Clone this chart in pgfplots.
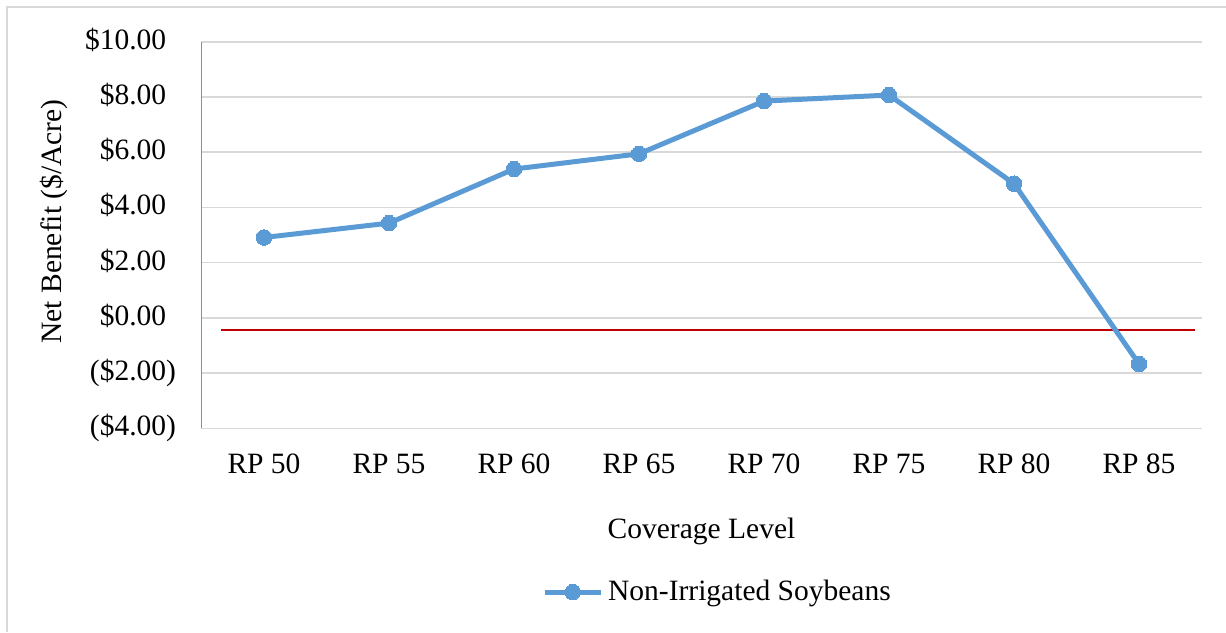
\documentclass[border=0pt]{standalone}
\usepackage{pgfplots}
\pgfplotsset{compat=1.18}
\usepackage{fontspec}
\setmainfont{Liberation Serif}
\definecolor{series}{HTML}{5B9BD5}
\definecolor{refred}{HTML}{C00000}
\definecolor{gridgray}{HTML}{D9D9D9}
\newcommand{\chartfont}{\fontsize{11.8}{14}\selectfont}

\begin{document}
\begin{tikzpicture}
\useasboundingbox (0,0) rectangle (490.4pt,252.8pt);
\draw[gridgray, line width=0.8pt] (2.8pt,0pt) -- (2.8pt,250pt) -- (490.4pt,250pt);
\begin{axis}[
    at={(80.6pt,81.5pt)}, anchor=south west,
    scale only axis,
    width=400pt, height=154.6pt,
    xmin=-0.5, xmax=7.5,
    ymin=-4, ymax=10,
    xtick={0,...,7},
    xticklabels={RP 50, RP 55, RP 60, RP 65, RP 70, RP 75, RP 80, RP 85},
    ytick={-4,-2,...,10},
    yticklabels={(\$4.00), (\$2.00), \$0.00\phantom{)}, \$2.00\phantom{)}, \$4.00\phantom{)}, \$6.00\phantom{)}, \$8.00\phantom{)}, \$10.00\phantom{)}},
    major tick length=0pt,
    ymajorgrids,
    grid style={gridgray, line width=0.6pt},
    axis x line*=bottom,
    axis y line*=left,
    x axis line style={draw=none},
    y axis line style={series, line width=0.5pt},
    /pgf/number format/assume math mode=true,
    xticklabel style={font=\chartfont, anchor=north, inner sep=0pt, yshift=-10pt},
    yticklabel style={font=\chartfont, anchor=east, inner sep=0pt, xshift=-10pt},
    xlabel={Coverage Level},
    xlabel style={font=\chartfont, at={(axis description cs:0.5,0)}, anchor=north, inner sep=0pt, yshift=-35.8pt},
    ylabel={Net Benefit (\$/Acre)},
    ylabel style={font=\chartfont, at={(axis description cs:-0.1475,0.535)}, anchor=center, inner sep=0pt},
    legend style={font=\chartfont, draw=none, fill=none, at={(axis description cs:0.5175,-0.424)}, anchor=center, inner sep=0pt, cells={anchor=west}},
    legend image code/.code={\draw[#1, mark repeat=2, mark phase=2] plot coordinates {(0pt,0pt) (11.2pt,0pt) (22.4pt,0pt)};},
    clip=false,
]
\addplot[refred, line width=0.8pt, forget plot] coordinates {(-0.344,-0.43) (7.45,-0.43)};
\addplot[series, line width=2pt, mark=*, mark size=3.1pt, mark options={fill=series, draw=series, line width=0pt}] coordinates {
    (0,2.91) (1,3.43) (2,5.39) (3,5.94) (4,7.85) (5,8.07) (6,4.86) (7,-1.67)
};
\legend{Non-Irrigated Soybeans}
\end{axis}
\end{tikzpicture}
\end{document}
